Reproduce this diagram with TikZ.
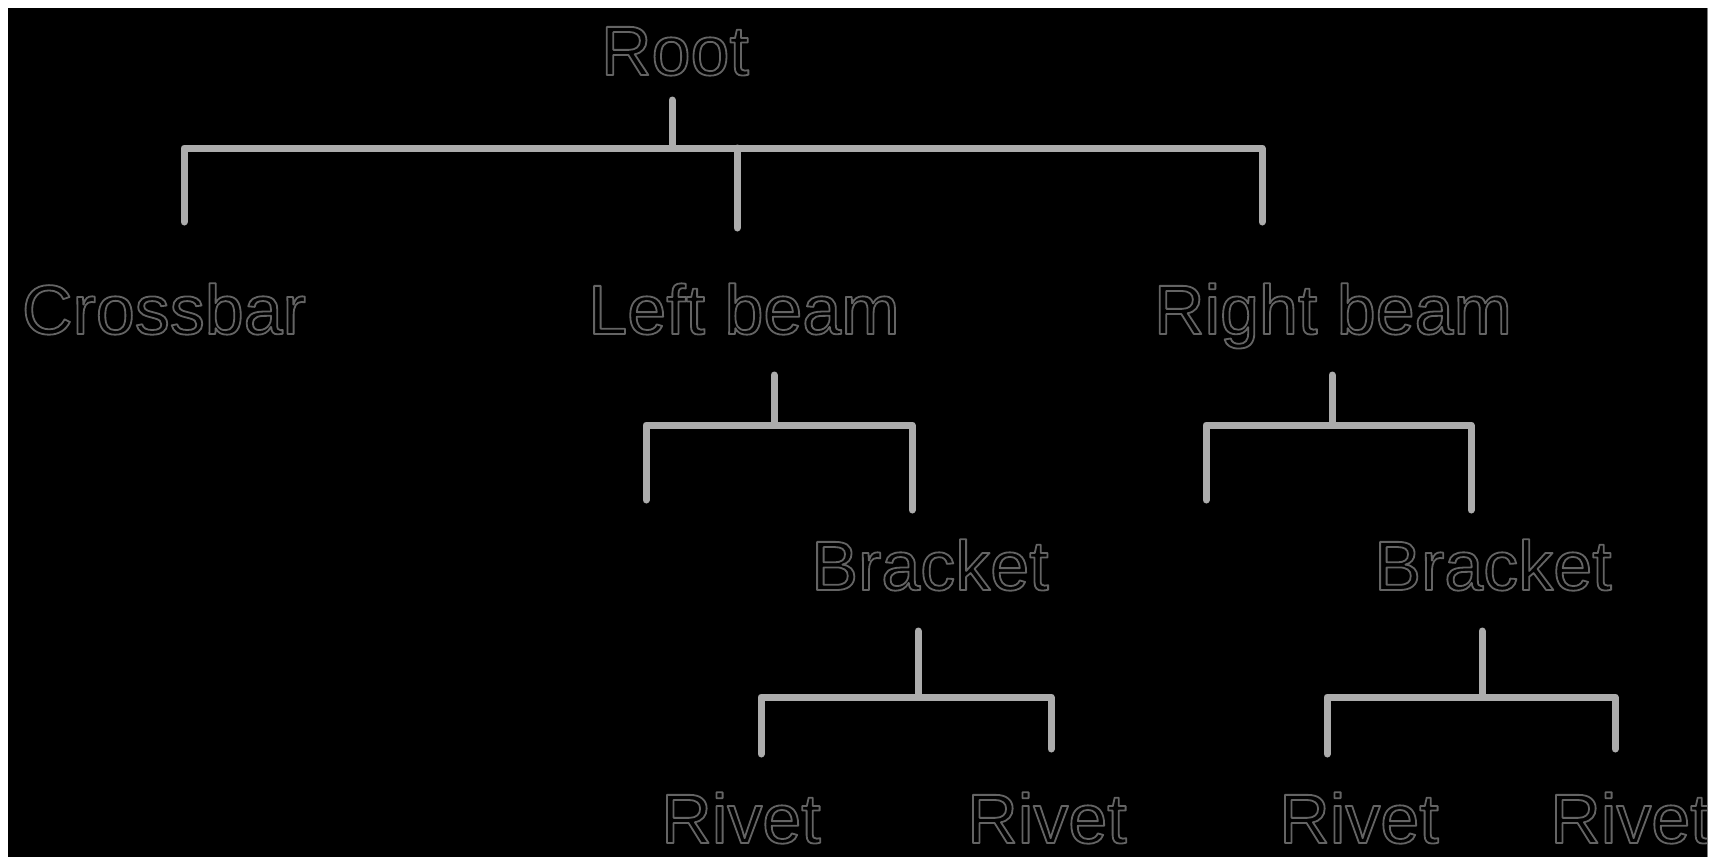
\documentclass[tikz,border=0pt]{standalone}
\usepackage{fontspec}
\setmainfont{Liberation Sans}
\definecolor{bar}{RGB}{172,172,172}
\definecolor{txt}{RGB}{100,100,100}
\newcommand{\outlinetext}[1]{\special{pdf:literal 1 Tr 1.8 w 1 j}#1\special{pdf:literal 0 Tr}}
\tikzset{
  lbl/.style={anchor=base,inner sep=0pt,text=txt,font=\fontsize{70}{70}\selectfont},
  conn/.style={draw=bar,line width=7pt,line cap=round,line join=round}
}
\begin{document}
\begin{tikzpicture}[x=1pt,y=-1pt]
\useasboundingbox (0,0) rectangle (1715,857);
\fill[white] (0,0) rectangle (1715,857);
\fill[black] (8,8) rectangle (1707,857);
\draw[gray,line width=1pt] (1707,8) -- (1707,857);
\begin{scope}
\clip (8,8) rectangle (1707,857);
% labels
\node[lbl] (root) at (675,75) {\outlinetext{Root}};
\node[lbl] (cross) at (164,334) {\outlinetext{Crossbar}};
\node[lbl] (lbeam) at (744,334) {\outlinetext{Left beam}};
\node[lbl] (rbeam) at (1333,334) {\outlinetext{Right beam}};
\node[lbl] (lbr) at (930,590) {\outlinetext{Bracket}};
\node[lbl] (rbr) at (1493,590) {\outlinetext{Bracket}};
\node[lbl] (r1) at (741,843) {\outlinetext{Rivet}};
\node[lbl] (r2) at (1047,843) {\outlinetext{Rivet}};
\node[lbl] (r3) at (1359,843) {\outlinetext{Rivet}};
\node[lbl] (r4) at (1630,843) {\outlinetext{Rivet}};
% coordinates
\coordinate (a0) at (672,100);
\coordinate (a1) at (672,148);
\coordinate (aL) at (184,148);
\coordinate (aR) at (1262,148);
\coordinate (aM) at (737,148);
\coordinate (c1) at (184,222);
\coordinate (c2) at (737,228);
\coordinate (c3) at (1262,222);
% root bracket
\draw[conn] (a0) -- (a1);
\draw[conn] (c1) -- (aL) -- (aR) -- (c3);
\draw[conn] (aM) -- (c2);
% left beam bracket
\draw[conn] (774,375) -- (774,425);
\draw[conn] (646,500) -- (646,425) -- (912,425) -- (912,510);
% right beam bracket
\draw[conn] (1332,375) -- (1332,425);
\draw[conn] (1206,500) -- (1206,425) -- (1471,425) -- (1471,510);
% left bracket
\draw[conn] (918,631) -- (918,697);
\draw[conn] (761,754) -- (761,697) -- (1051,697) -- (1051,749);
% right bracket
\draw[conn] (1482,631) -- (1482,697);
\draw[conn] (1327,754) -- (1327,697) -- (1615,697) -- (1615,749);
\end{scope}
\end{tikzpicture}
\end{document}
